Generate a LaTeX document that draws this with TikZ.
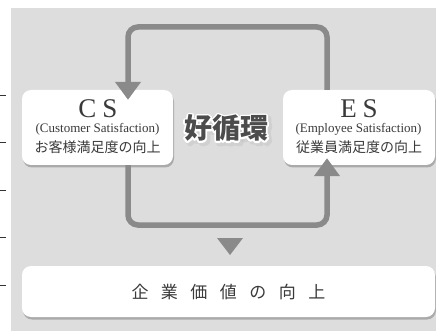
\documentclass[tikz,border=0pt]{standalone}
\usepackage{fontspec}
\setmainfont{Liberation Serif}
\newfontfamily\jp{Noto Sans CJK JP}
\usetikzlibrary{arrows.meta,shadows,calc}
\definecolor{bg}{HTML}{DCDDDC}
\definecolor{loopc}{HTML}{8A8A8A}
\definecolor{txt}{HTML}{3A3A3A}
\definecolor{tickc}{HTML}{333333}
\tikzset{
  box/.style={fill=white, rounded corners=9pt, inner sep=0pt,
    drop shadow={shadow xshift=1pt, shadow yshift=-2.5pt, opacity=0.35, fill=black!70}},
  loopline/.style={draw=loopc, line width=5.5pt, rounded corners=10pt},
  tip/.style={-{Triangle[width=25pt,length=18pt]}},
  tickline/.style={draw=tickc, line width=0.8pt},
  lbl/.style={text=txt, inner sep=0pt},
}
\newcommand{\kjfont}{\jp\bfseries\fontsize{28}{28}\selectfont}
\newcommand{\strokedtext}[3]{\special{pdf:literal direct q #1 RG #2 w 1 j 1 Tr}#3\special{pdf:literal direct 0 Tr Q}}
\begin{document}
\begin{tikzpicture}[x=1pt,y=-1pt]
\useasboundingbox (0,0) rectangle (436,331);
\fill[bg] (11,8) rectangle (436,331);
\foreach \yy in {95,142,190,237,285} \draw[tickline] (0,\yy) -- (6,\yy);

\node[box, minimum width=151pt, minimum height=75pt] (cs) at (97.5,127.5) {};
\node[box, minimum width=152pt, minimum height=75pt] (es) at (359,127.5) {};
\node[box, minimum width=413pt, minimum height=51pt] (cv) at (228.5,291.5) {};

\coordinate (xl) at (128,0);
\coordinate (xr) at (327,0);
\coordinate (top) at (0,27);
\coordinate (bot) at (0,225);

\draw[loopline,tip] (es.north -| xr) |- (top -| xl) -- ($(cs.north -| xl)+(0,10)$);
\draw[loopline,tip] (cs.south -| xl) |- (bot -| xr) -- ($(es.south -| xr)+(0,-7)$);
\fill[loopc] (217,238) -- (243,238) -- (230,255) -- cycle;

\node[lbl, font=\fontsize{27}{27}\selectfont] (cst) at (98,109) {C\hspace{6pt}S};
\node[lbl, font=\fontsize{13}{13}\selectfont] (cse) at (97.5,129) {(Customer Satisfaction)};
\node[lbl, font=\jp\fontsize{14}{14}\selectfont] (csj) at (97.5,147) {お客様満足度の向上};

\node[lbl, font=\fontsize{27}{27}\selectfont] (est) at (359,109) {E\hspace{6pt}S};
\node[lbl, font=\fontsize{13}{13}\selectfont] (ese) at (358.5,129) {(Employee Satisfaction)};
\node[lbl, font=\jp\fontsize{14}{14}\selectfont] (esj) at (359,147) {従業員満足度の向上};

\node[inner sep=0pt, font=\kjfont, text=black, opacity=0.15] (ks) at (228.5,130.5) {\strokedtext{0.55 0.55 0.55}{5}{好循環}};
\node[inner sep=0pt, font=\kjfont, text=white] (kw) at (226,128) {\strokedtext{1 1 1}{3.6}{好循環}};
\node[inner sep=0pt, font=\kjfont, text=black!70] (kj) at (226,128) {好循環};

\node[lbl, font=\jp\fontsize{17}{17}\selectfont] (cvt) at (228.5,292) {企\hspace{12.5pt}業\hspace{12.5pt}価\hspace{12.5pt}値\hspace{12.5pt}の\hspace{12.5pt}向\hspace{12.5pt}上};
\end{tikzpicture}
\end{document}
